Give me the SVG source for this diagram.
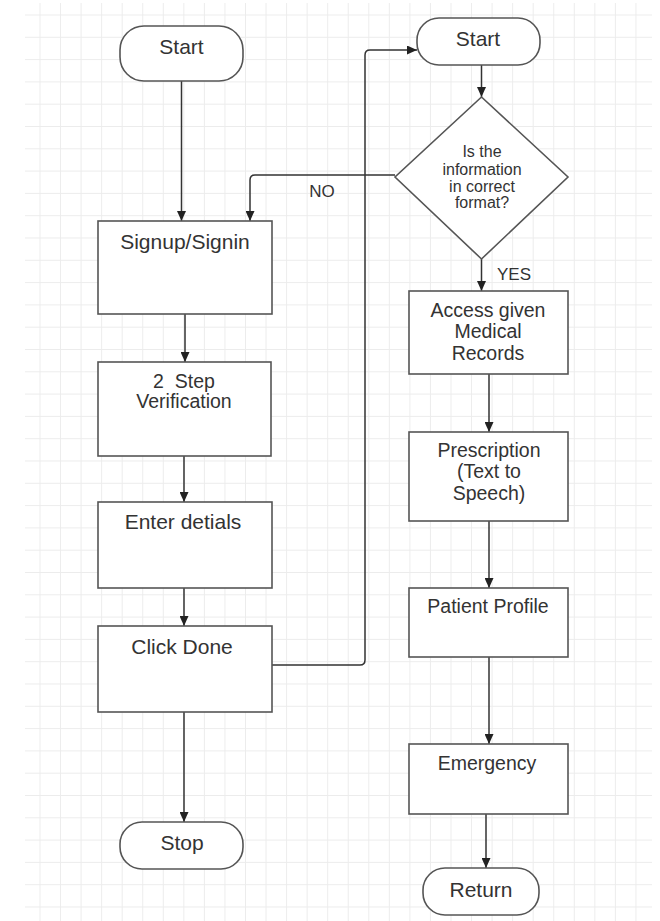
<svg xmlns="http://www.w3.org/2000/svg" width="660" height="921" viewBox="0 0 660 921">
<defs>
<pattern id="grid" patternUnits="userSpaceOnUse" x="39.5" y="14.5" width="20.55" height="22.3">
<path d="M0.5 0 V22.3 M0 0.5 H20.55" fill="none" stroke="#ececec" stroke-width="1"/>
</pattern>
<marker id="arr" markerUnits="userSpaceOnUse" markerWidth="10" markerHeight="9" refX="10" refY="4.5" orient="auto">
<path d="M0,0 L10,4.5 L0,9 z" fill="#222"/>
</marker>
<style>
.box{fill:#fff;stroke:#555;stroke-width:1.6}
.t{font-family:"Liberation Sans",Arial,sans-serif;fill:#333;text-anchor:middle}
.l{font-size:21px}
.r{font-size:19.5px}
.s{font-size:16px}
.c{fill:none;stroke:#333;stroke-width:1.5;marker-end:url(#arr)}
</style>
</defs>
<rect x="0" y="0" width="660" height="921" fill="#fff"/>
<rect x="25" y="3" width="627" height="918" fill="url(#grid)"/>

<g id="connectors">
<path class="c" d="M181.5,81 V221"/>
<path class="c" d="M395,175 H255 Q250,175 250,180 V221"/>
<path class="c" d="M185,314 V362"/>
<path class="c" d="M184,456 V502"/>
<path class="c" d="M184,588 V626"/>
<path class="c" d="M184,712 V822"/>
<path class="c" d="M272,665 H360 Q365,665 365,660 V55 Q365,50 370,50 H417"/>
<path class="c" d="M481.5,65 V97"/>
<path class="c" d="M481.5,259 V291"/>
<path class="c" d="M489,374 V432"/>
<path class="c" d="M489,521 V588"/>
<path class="c" d="M489,657 V744"/>
<path class="c" d="M486,814 V868"/>
<text class="t" x="322" y="197" style="font-size:17px">NO</text>
<text class="t" x="514" y="280" style="font-size:17px">YES</text>
</g>

<g id="start-left">
<rect class="box" x="120" y="26" width="123" height="55" rx="24"/>
<text class="t l" x="181.5" y="54">Start</text>
</g>
<g id="signup">
<rect class="box" x="98" y="221" width="174" height="93"/>
<text class="t l" x="185" y="249">Signup/Signin</text>
</g>
<g id="verification">
<rect class="box" x="98" y="362" width="173" height="94"/>
<text class="t r" x="184" y="388" style="white-space:pre">2  Step</text>
<text class="t r" x="184" y="408">Verification</text>
</g>
<g id="enter-details">
<rect class="box" x="98" y="502" width="174" height="86"/>
<text class="t l" x="183" y="529">Enter detials</text>
</g>
<g id="click-done">
<rect class="box" x="98" y="626" width="174" height="86"/>
<text class="t l" x="182" y="654">Click Done</text>
</g>
<g id="stop">
<rect class="box" x="120" y="822" width="123" height="47" rx="22"/>
<text class="t l" x="182" y="850">Stop</text>
</g>

<g id="start-right">
<rect class="box" x="417" y="18" width="123" height="47" rx="22"/>
<text class="t l" x="478" y="46">Start</text>
</g>
<g id="decision">
<polygon class="box" points="481.5,97 568,177 481.5,259 395,177"/>
<text class="t s" x="482" y="157">Is the</text>
<text class="t s" x="482" y="175">information</text>
<text class="t s" x="482" y="192">in correct</text>
<text class="t s" x="482" y="208">format?</text>
</g>
<g id="access-records">
<rect class="box" x="409" y="291" width="159" height="83"/>
<text class="t r" x="488" y="317">Access given</text>
<text class="t r" x="488" y="338">Medical</text>
<text class="t r" x="488" y="360">Records</text>
</g>
<g id="prescription">
<rect class="box" x="409" y="432" width="159" height="89"/>
<text class="t r" x="489" y="457">Prescription</text>
<text class="t r" x="489" y="478">(Text to</text>
<text class="t r" x="489" y="500">Speech)</text>
</g>
<g id="patient-profile">
<rect class="box" x="409" y="588" width="159" height="69"/>
<text class="t r" x="488" y="613">Patient Profile</text>
</g>
<g id="emergency">
<rect class="box" x="409" y="744" width="159" height="70"/>
<text class="t r" x="487" y="770">Emergency</text>
</g>
<g id="return">
<rect class="box" x="423" y="868" width="116" height="47" rx="22"/>
<text class="t l" x="481" y="897">Return</text>
</g>
</svg>
